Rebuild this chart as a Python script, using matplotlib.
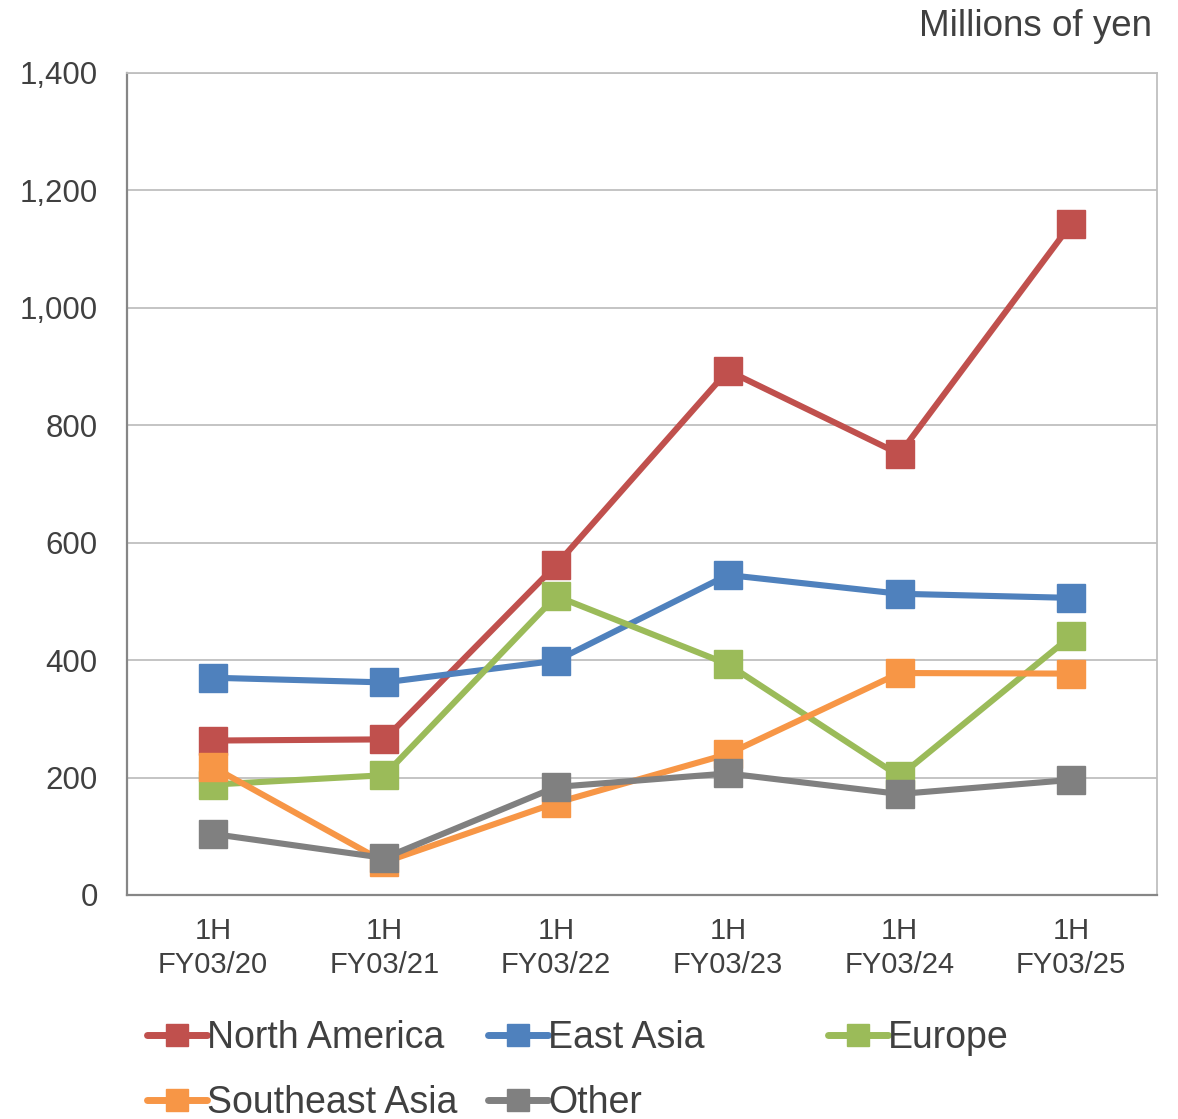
import matplotlib.pyplot as plt
from matplotlib.lines import Line2D

plt.rcParams['font.family'] = ['Liberation Sans', 'DejaVu Sans']

# half-year sales by region, millions of yen
periods = ['1H\nFY03/20', '1H\nFY03/21', '1H\nFY03/22', '1H\nFY03/23', '1H\nFY03/24', '1H\nFY03/25']
north_america = [263, 265, 562, 893, 751, 1143]
east_asia = [370, 362, 399, 545, 513, 506]
europe = [188, 204, 509, 393, 202, 441]
southeast_asia = [218, 56, 157, 240, 378, 377]
other = [104, 63, 184, 207, 172, 196]

names = ['North America', 'East Asia', 'Europe', 'Southeast Asia', 'Other']
series = [north_america, east_asia, europe, southeast_asia, other]
colors = ['#C0504D', '#4F81BD', '#9BBB59', '#F79646', '#808080']
text_col = '#404040'

fig = plt.figure(figsize=(11.78, 11.19), dpi=100)
ax = fig.add_axes([0.1078, 0.2002, 0.8744, 0.7346])

x = list(range(len(periods)))
for vals, c in zip(series, colors):
    ax.plot(x, vals, color=c, lw=4.4, marker='s', markersize=20,
            solid_joinstyle='miter')

ax.set_xlim(-0.5, 5.5)
ax.set_ylim(0, 1400)
ax.set_yticks(range(0, 1401, 200))
ax.set_yticklabels([f'{v:,}' for v in range(0, 1401, 200)])
ax.set_xticks(x)
ax.set_xticklabels(periods, linespacing=1.25)
ax.tick_params(axis='y', length=0, pad=21, labelsize=22.5, labelcolor=text_col)
ax.tick_params(axis='x', length=0, pad=16, labelsize=21, labelcolor=text_col)

ax.grid(axis='y', color='#BFBFBF', lw=1.3)
ax.set_axisbelow(True)
for side in ['top', 'right']:
    ax.spines[side].set_color('#BFBFBF')
    ax.spines[side].set_linewidth(1.3)
for side in ['left', 'bottom']:
    ax.spines[side].set_color('#868686')
    ax.spines[side].set_linewidth(1.6)

fig.text(0.978, 0.976, 'Millions of yen', ha='right', va='center',
         fontsize=26.5, color=text_col)

# legend laid out in fixed-width columns, row by row
handles = [Line2D([], [], color=c, lw=5, marker='s', markersize=16,
                  solid_capstyle='round')
           for c in colors]
col_x = [0.1245, 0.4145, 0.7025]
row_y = [0.0725, 0.0145]
for i, (h, n) in enumerate(zip(handles, names)):
    r, cidx = divmod(i, 3)
    leg = fig.legend([h], [n], loc='center left',
                     bbox_to_anchor=(col_x[cidx], row_y[r]),
                     frameon=False, fontsize=27, handlelength=1.6,
                     handletextpad=0.0, borderpad=0, borderaxespad=0,
                     labelcolor=text_col)

fig.savefig('out.png', dpi=100)
